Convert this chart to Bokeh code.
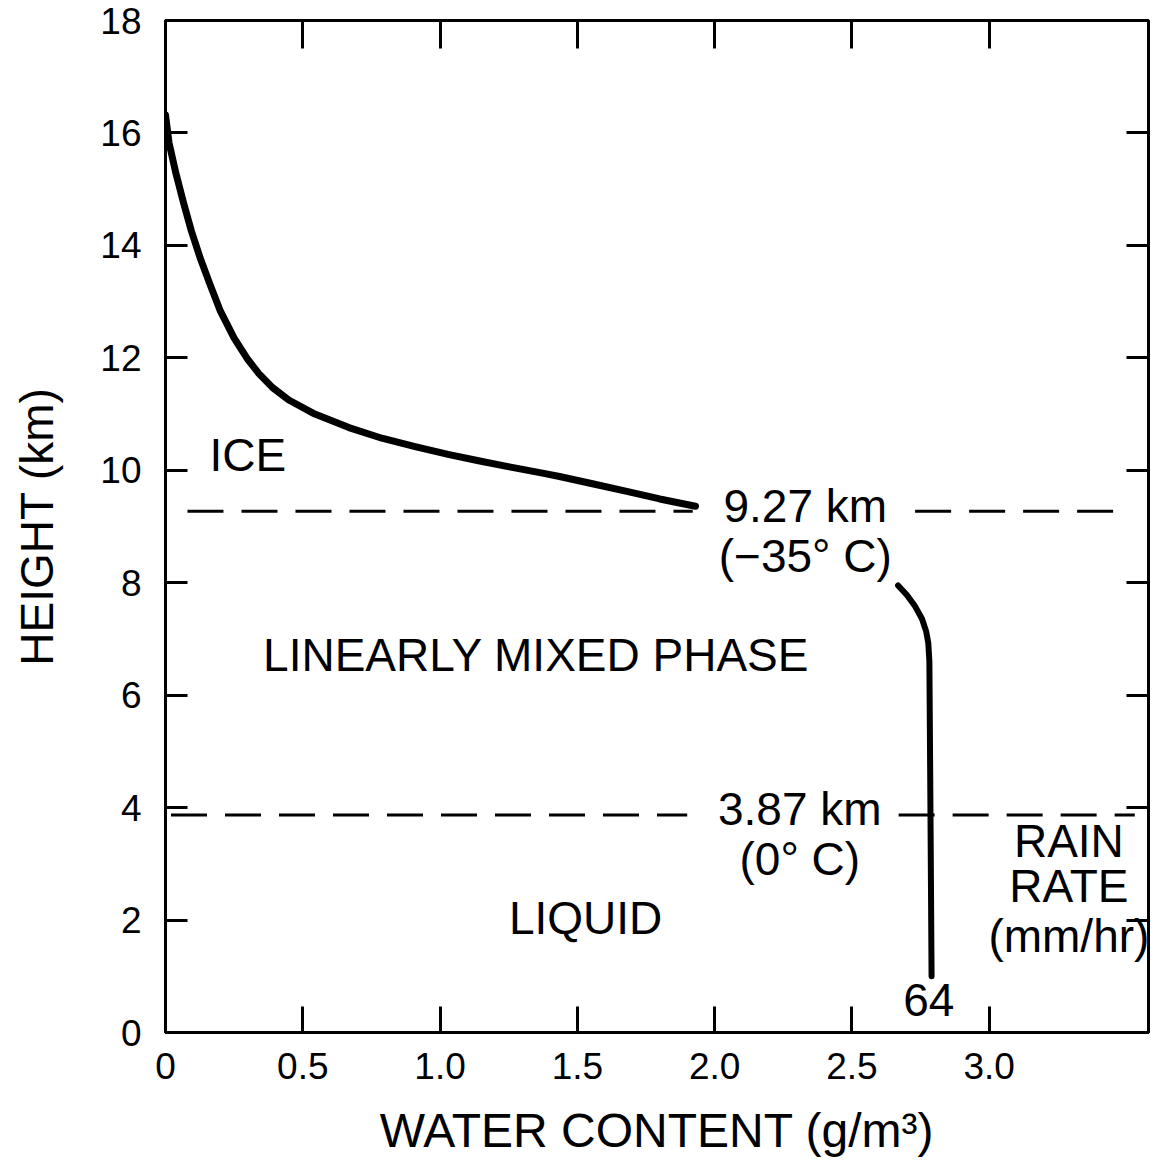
from bokeh.plotting import figure
from bokeh.models import Range1d, LinearAxis, FixedTicker, Label
from bokeh.embed import file_html
from bokeh.resources import INLINE

# ---- data ----
ice_x = [0.0, 0.013, 0.038, 0.066, 0.094, 0.126, 0.161, 0.20, 0.25, 0.30, 0.34, 0.39, 0.449,
         0.544, 0.668, 0.788, 0.909, 1.033, 1.14, 1.252, 1.373, 1.435, 1.555, 1.676, 1.80, 1.93]
ice_y = [16.32, 15.82, 15.28, 14.75, 14.26, 13.78, 13.32, 12.83, 12.35, 11.97, 11.72, 11.47, 11.25,
         11.0, 10.76, 10.57, 10.42, 10.28, 10.17, 10.06, 9.95, 9.89, 9.76, 9.63, 9.49, 9.36]
mixed_x = [2.668, 2.70, 2.73, 2.755, 2.77, 2.778, 2.782, 2.786, 2.79]
mixed_y = [7.95, 7.78, 7.58, 7.36, 7.14, 6.93, 6.6, 3.9, 1.0]
freeze_level = 9.27   # km (-35 C)
melt_level = 3.87     # km (0 C)
rain_rate = "64"
x_ticks = [0, 0.5, 1.0, 1.5, 2.0, 2.5, 3.0]
x_tick_labels = {0: "0", 0.5: "0.5", 1.0: "1.0", 1.5: "1.5", 2.0: "2.0", 2.5: "2.5", 3.0: "3.0"}
y_ticks = [0, 2, 4, 6, 8, 10, 12, 14, 16, 18]

FONT = "Liberation Sans"

p = figure(width=1162, height=1162, x_range=Range1d(0, 3.58), y_range=Range1d(0, 18),
           output_backend="svg", toolbar_location=None,
           min_border_left=165, min_border_right=14, min_border_top=20, min_border_bottom=130,
           x_axis_location=None, y_axis_location=None)
p.grid.visible = False
p.outline_line_color = "black"
p.outline_line_width = 3
p.background_fill_color = "white"
p.border_fill_color = "white"

def style_axis(ax, labels=True, tick_len=22):
    ax.axis_line_color = "black"
    ax.axis_line_width = 3
    ax.major_tick_line_color = "black"
    ax.major_tick_line_width = 3
    ax.major_tick_in = tick_len
    ax.major_tick_out = 0
    ax.minor_tick_line_color = None
    ax.major_label_text_color = "black"
    ax.axis_label_text_color = "black"
    if not labels:
        ax.major_label_text_font_size = "0px"
        ax.major_label_text_color = None

bottom = LinearAxis(ticker=FixedTicker(ticks=x_ticks), axis_label="WATER CONTENT (g/m³)")
style_axis(bottom, tick_len=26)
bottom.major_label_overrides = x_tick_labels
bottom.major_label_text_font = FONT
bottom.major_label_text_font_size = "37px"
bottom.major_label_standoff = 20
bottom.axis_label_text_font = FONT
bottom.axis_label_text_font_size = "48px"
bottom.axis_label_text_font_style = "normal"
bottom.axis_label_standoff = 22
p.add_layout(bottom, "below")

left = LinearAxis(ticker=FixedTicker(ticks=y_ticks), axis_label="HEIGHT (km)")
style_axis(left, tick_len=22)
left.major_label_text_font = FONT
left.major_label_text_font_size = "37px"
left.major_label_standoff = 24
left.axis_label_text_font = FONT
left.axis_label_text_font_size = "46px"
left.axis_label_text_font_style = "normal"
left.axis_label_standoff = 34
p.add_layout(left, "left")

top = LinearAxis(ticker=FixedTicker(ticks=x_ticks[1:]))
style_axis(top, labels=False, tick_len=28)
p.add_layout(top, "above")

right = LinearAxis(ticker=FixedTicker(ticks=y_ticks[1:-1]))
style_axis(right, labels=False, tick_len=22)
p.add_layout(right, "right")

# curves
p.line(ice_x, ice_y, line_color="black", line_width=7, line_cap="round", line_join="round")
p.line(mixed_x, mixed_y, line_color="black", line_width=6, line_cap="round", line_join="round")

# dashed level lines (with gaps for labels)
dash = dict(line_color="black", line_width=3, line_dash="36 18")
p.line([0.08, 1.92], [freeze_level, freeze_level], **dash)
p.line([2.73, 3.51], [freeze_level, freeze_level], **dash)
p.line([0.02, 1.90], [melt_level, melt_level], **dash)
p.line([2.67, 3.53], [melt_level, melt_level], **dash)

def txt(x, y, s, size="46px", font=FONT):
    p.add_layout(Label(x=x, y=y, text=s, text_font=font, text_font_size=size,
                       text_align="center", text_baseline="middle", text_color="black"))

txt(0.30, 10.27, "ICE")
txt(1.35, 6.71, "LINEARLY MIXED PHASE")
txt(1.53, 2.03, "LIQUID")
txt(2.33, 9.36, "9.27 km")
txt(2.33, 8.47, "(−35° C)")
txt(2.31, 3.98, "3.87 km")
txt(2.31, 3.08, "(0° C)")
txt(3.29, 3.40, "RAIN")
txt(3.29, 2.60, "RATE")
txt(3.29, 1.71, "(mm/hr)")
txt(2.78, 0.57, rain_rate)

open("out.html", "w").write(file_html(p, INLINE))
